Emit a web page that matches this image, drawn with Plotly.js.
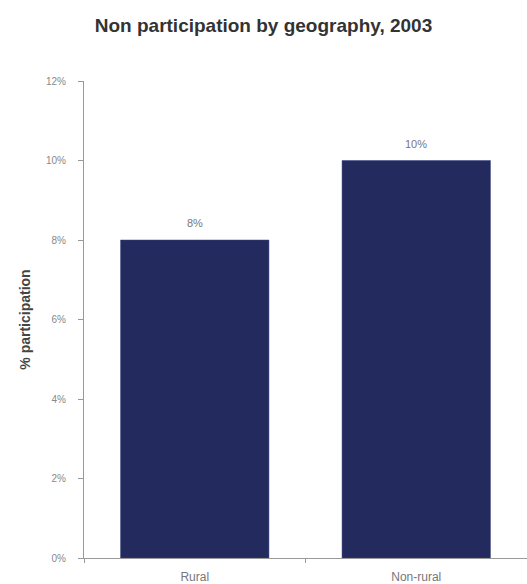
<!DOCTYPE html>
<html>
<head>
<meta charset="utf-8">
<script src="https://cdn.plot.ly/plotly-3.0.1.min.js"></script>
<style>html,body{margin:0;padding:0;background:#fff;}#chart{width:527px;height:584px;}</style>
</head>
<body>
<div id="chart"></div>
<script>
const categories = ["Rural", "Non-rural"];
const values = [8, 10];
const valueLabels = ["8%", "10%"];
const yTickVals = [0, 2, 4, 6, 8, 10, 12];
const yTickText = ["0%", "2%", "4%", "6%", "8%", "10%", "12%"];

const FONT = "Arial, Liberation Sans, sans-serif";

const trace = {
  type: "bar",
  x: categories,
  y: values,
  marker: {color: "#232a5e", line: {color: "#3a4584", width: 0.5}},
  hoverinfo: "none"
};

const valueAnnotations = categories.map((c, i) => ({
  x: c, y: values[i], xref: "x", yref: "y",
  text: valueLabels[i], showarrow: false,
  yanchor: "bottom", yshift: 9,
  font: {family: FONT, size: 11, color: "#777"}
}));

const layout = {
  width: 527,
  height: 584,
  margin: {l: 84, r: 0, t: 81, b: 26},
  paper_bgcolor: "#fff",
  plot_bgcolor: "#fff",
  bargap: 0.33,
  showlegend: false,
  annotations: valueAnnotations,
  title: {
    text: "<b>Non participation by geography, 2003</b>",
    x: 0.5, xanchor: "center",
    y: 0.957, yanchor: "middle",
    font: {family: FONT, size: 19, color: "#333"}
  },
  xaxis: {
    showline: true, linecolor: "#999", linewidth: 1,
    ticks: "outside", tickson: "boundaries", ticklen: 4, tickcolor: "#999",
    ticklabelstandoff: 8,
    showgrid: false, zeroline: false,
    tickfont: {family: FONT, size: 12, color: "#777"}
  },
  yaxis: {
    range: [0, 12],
    tickvals: yTickVals,
    ticktext: yTickText,
    showline: true, linecolor: "#999", linewidth: 1,
    ticks: "outside", ticklen: 5, tickcolor: "#999",
    ticklabelstandoff: 10,
    showgrid: false, zeroline: false,
    tickfont: {family: FONT, size: 10, color: "#888"},
    title: {
      text: "<b>% participation</b>",
      standoff: 12,
      font: {family: FONT, size: 14, color: "#444"}
    }
  }
};

Plotly.newPlot("chart", [trace], layout, {displayModeBar: false, staticPlot: true});
</script>
</body>
</html>
